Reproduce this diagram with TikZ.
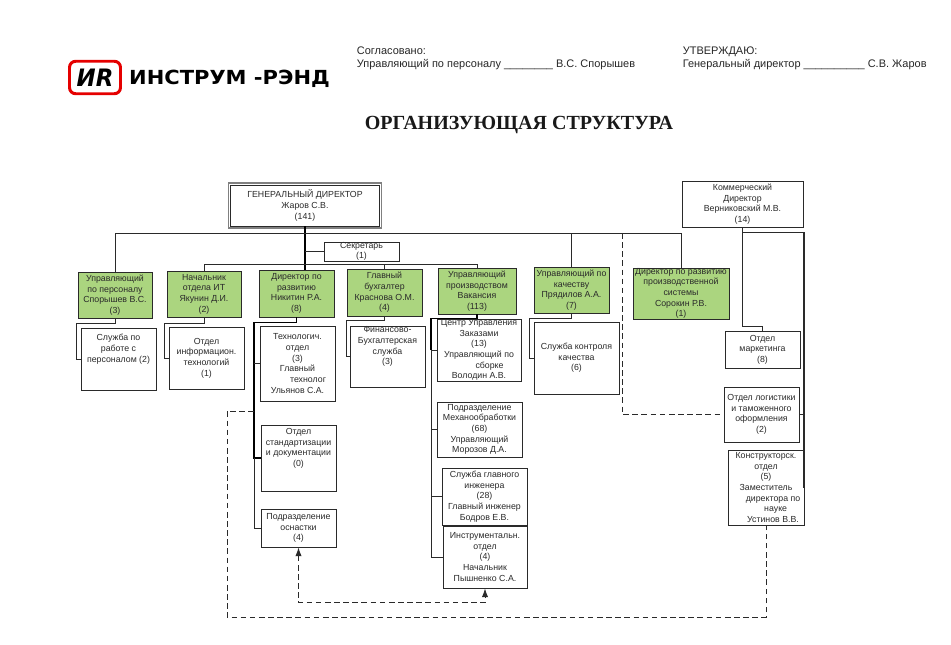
\documentclass[tikz,border=0pt]{standalone}
\usepackage{fontspec}
\usepackage{graphicx}
\usepackage{xcolor}
\setmainfont{Liberation Sans}
\newfontfamily\titlefont{Liberation Serif}
\newfontfamily\logofont{DejaVu Sans}
\usetikzlibrary{arrows.meta}
\definecolor{leafgreen}{HTML}{ABD57F}
\definecolor{inkgray}{HTML}{2A2A2A}
\tikzset{
  orgbox/.style={draw=inkgray,line width=0.5pt,fill=white,inner sep=0pt,align=center,text=inkgray,font=\fontsize{5.0}{6.05}\selectfont},
  greenbox/.style={orgbox,fill=leafgreen},
  link/.style={draw=inkgray,line width=0.5pt},
  boldlink/.style={draw=black,line width=0.85pt},
  dashlink/.style={draw=inkgray,line width=0.5pt,dash pattern=on 3.2pt off 2pt},
  headtext/.style={anchor=base west,inner sep=0pt,text=black!85,font=\fontsize{6.25}{7.4}\selectfont}
}
\begin{document}
\begin{tikzpicture}[x=0.02cm,y=-0.02cm]
\useasboundingbox (0,0) rectangle (951,645);

% logo
\node [draw=red!90!black,line width=1.7pt,rounded corners=3.5pt,minimum width=1.02cm,minimum height=0.65cm,inner sep=0pt,font=\logofont\bfseries\itshape\fontsize{13}{13}\selectfont] (logomark) at (95,77.5) {\scalebox{1}[1.05]{ИR}};
\node [inner sep=0pt,font=\logofont\bfseries\fontsize{9.2}{10}\selectfont] (logoname) at (229.5,79) {\scalebox{1.3}[1.2]{ИНСТРУМ -РЭНД}};

% header
\node [headtext] (agreed) at (356.5,55) {Согласовано:};
\node [headtext] (agreedby) at (356.5,68) {Управляющий по персоналу \_\_\_\_\_\_\_\_ В.С. Спорышев};
\node [headtext] (approved) at (682.5,55) {УТВЕРЖДАЮ:};
\node [headtext] (approvedby) at (682.5,68) {Генеральный директор \_\_\_\_\_\_\_\_\_\_ С.В. Жаров};
\node [inner sep=0pt,text=black!90,font=\titlefont\bfseries\fontsize{11.4}{12}\selectfont] (title) at (519,125) {ОРГАНИЗУЮЩАЯ СТРУКТУРА};

% links first, boxes go on top
\coordinate (busleft) at (115,233);
\coordinate (busright) at (681,233);
\coordinate (buslow) at (203,264);

% top level
\node [orgbox,minimum width=2.98cm,minimum height=0.82cm] (general) at (305,205.5) {ГЕНЕРАЛЬНЫЙ ДИРЕКТОР\\Жаров С.В.\\(141)};
\draw [link,draw=gray,line width=0.8pt] ([shift={(-1.5,1.5)}]general.south west) rectangle ([shift={(1.5,-1.5)}]general.north east);
\node [orgbox,minimum width=1.5cm,minimum height=0.38cm] (secretary) at (361.5,251.5) {Секретарь\\(1)};
\node [orgbox,minimum width=2.42cm,minimum height=0.92cm] (commerce) at (742.5,204) {Коммерческий\\Директор\\Верниковский М.В.\\(14)};

% green row
\node [greenbox,minimum width=1.48cm,minimum height=0.92cm] (personnel) at (115,295) {Управляющий\\по персоналу\\Спорышев В.С.\\(3)};
\node [greenbox,minimum width=1.48cm,minimum height=0.92cm] (itdept) at (204,294) {Начальник\\отдела ИТ\\Якунин Д.И.\\(2)};
\node [greenbox,minimum width=1.5cm,minimum height=0.94cm] (devel) at (296.5,293.5) {Директор по\\развитию\\Никитин Р.А.\\(8)};
\node [greenbox,minimum width=1.5cm,minimum height=0.94cm] (account) at (384.5,292.5) {Главный\\бухгалтер\\Краснова О.М.\\(4)};
\node [greenbox,minimum width=1.56cm,minimum height=0.92cm] (product) at (477,291) {Управляющий\\производством\\Вакансия\\(113)};
\node [greenbox,minimum width=1.5cm,minimum height=0.92cm] (quality) at (571.5,290) {Управляющий по\\качеству\\Прядилов А.А.\\(7)};
\node [greenbox,minimum width=1.92cm,minimum height=1.02cm] (system) at (681,293.5) {Директор по развитию\\производственной\\системы\\Сорокин Р.В.\\(1)};

% white boxes
\node [orgbox,minimum width=1.5cm,minimum height=1.24cm] (staffserv) at (118.5,359) {Служба по\\работе с\\персоналом (2)\\ \\};
\node [orgbox,minimum width=1.5cm,minimum height=1.24cm] (itserv) at (206.5,358) {Отдел\\информацион.\\технологий\\(1)};
\node [orgbox,minimum width=1.5cm,minimum height=1.5cm] (techdept) at (297.5,363.5) {Технологич.\\отдел\\(3)\\Главный\\\hspace{12pt}технолог\\Ульянов С.А.};
\node [orgbox,minimum width=1.5cm,minimum height=1.32cm] (stddept) at (298.5,458) {Отдел\\стандартизации\\и документации\\(0)\\ \\};
\node [orgbox,minimum width=1.5cm,minimum height=0.76cm] (tooling) at (298.5,528) {Подразделение\\оснастки\\(4)};
\node [orgbox,minimum width=1.5cm,minimum height=1.22cm] (finserv) at (387.5,356.5) {Финансово-\\Бухгалтерская\\служба\\(3)\\ \\};
\node [orgbox,minimum width=1.68cm,minimum height=1.24cm] (orders) at (479,350) {Центр Управления\\Заказами\\(13)\\Управляющий по\\\hspace{12pt}сборке\\Володин А.В.};
\node [orgbox,minimum width=1.7cm,minimum height=1.1cm] (machining) at (479.5,429.5) {Подразделение\\Механообработки\\(68)\\Управляющий\\Морозов Д.А.};
\node [orgbox,minimum width=1.7cm,minimum height=1.14cm] (chiefeng) at (484.5,496.5) {Служба главного\\инженера\\(28)\\Главный инженер\\Бодров Е.В.};
\node [orgbox,minimum width=1.68cm,minimum height=1.24cm] (instrum) at (485,557) {Инструментальн.\\отдел\\(4)\\Начальник\\Пышненко С.А.};
\node [orgbox,minimum width=1.7cm,minimum height=1.44cm] (qualserv) at (576.5,358) {Служба контроля\\качества\\(6)};
\node [orgbox,minimum width=1.5cm,minimum height=0.74cm] (market) at (762.5,349.5) {Отдел\\маркетинга\\(8)};
\node [orgbox,minimum width=1.5cm,minimum height=1.1cm] (logist) at (761.5,414.5) {Отдел логистики\\и таможенного\\оформления\\(2)};
\node [orgbox,minimum width=1.52cm,minimum height=1.5cm] (design) at (766,487.5) {Конструкторск.\\отдел\\(5)\\Заместитель\\\hspace{8pt}директора по\\\hspace{11pt}науке\\\hspace{8pt}Устинов В.В.};

% connectors
\draw [boldlink] (general.south) -- (general.south |- devel.north);
\draw [link] (personnel.north) -- (busleft) -- (busright) -- (system.north);
\draw [link] (quality.north) -- (quality.north |- busleft);
\draw [link] (general.south |- secretary.west) -- (secretary.west);
\draw [link] (itdept.north) -- (itdept.north |- buslow) -- (product.north |- buslow) -- (product.north);
\draw [link] (account.north) -- (account.north |- buslow);

\draw [link] (personnel.south) -- ++(0,5) -| (76,359) -- (staffserv.west);
\draw [link] (itdept.south) -- ++(0,6) -| (164,358) -- (itserv.west);
\draw [link] (account.south) -- ++(0,4) -| (346,356.5) -- (finserv.west);
\draw [link] (quality.south) -- ++(0,5) -| (529,358) -- (qualserv.west);

\draw [boldlink] (devel.south) -- ++(0,5) -| (254,458) -- (stddept.west);
\draw [link] (254,458) |- (tooling.west);
\draw [link] (254,363.5) -- (techdept.west);
\draw [boldlink] (product.south) -- ++(0,4) -| (431,350);
\draw [link] (431,350) -- (orders.west);
\draw [link] (431,350) |- (instrum.west);
\draw [link] (431,429.5) -- (machining.west);
\draw [link] (431,496.5) -- (chiefeng.west);

\draw [link] (commerce.south) |- (market.north |- 0,326) -- (market.north);
\draw [link,line width=0.7pt] (commerce.south |- 0,232.5) -- (804,232.5) |- (design.east);
\draw [link] (logist.east) -- (804,414.5);

% dashed links
\draw [dashlink] (622,233) -- (622,414.5) -- (logist.west);
\draw [dashlink] (254,411) -- (227,411) -- (227,617) -| (design.south);
\draw [dashlink,{Latex[length=5pt,width=3.6pt]}-{Latex[length=5pt,width=3.6pt]}] (tooling.south) -- ++(0,55) -| (instrum.south);

\end{tikzpicture}
\end{document}
